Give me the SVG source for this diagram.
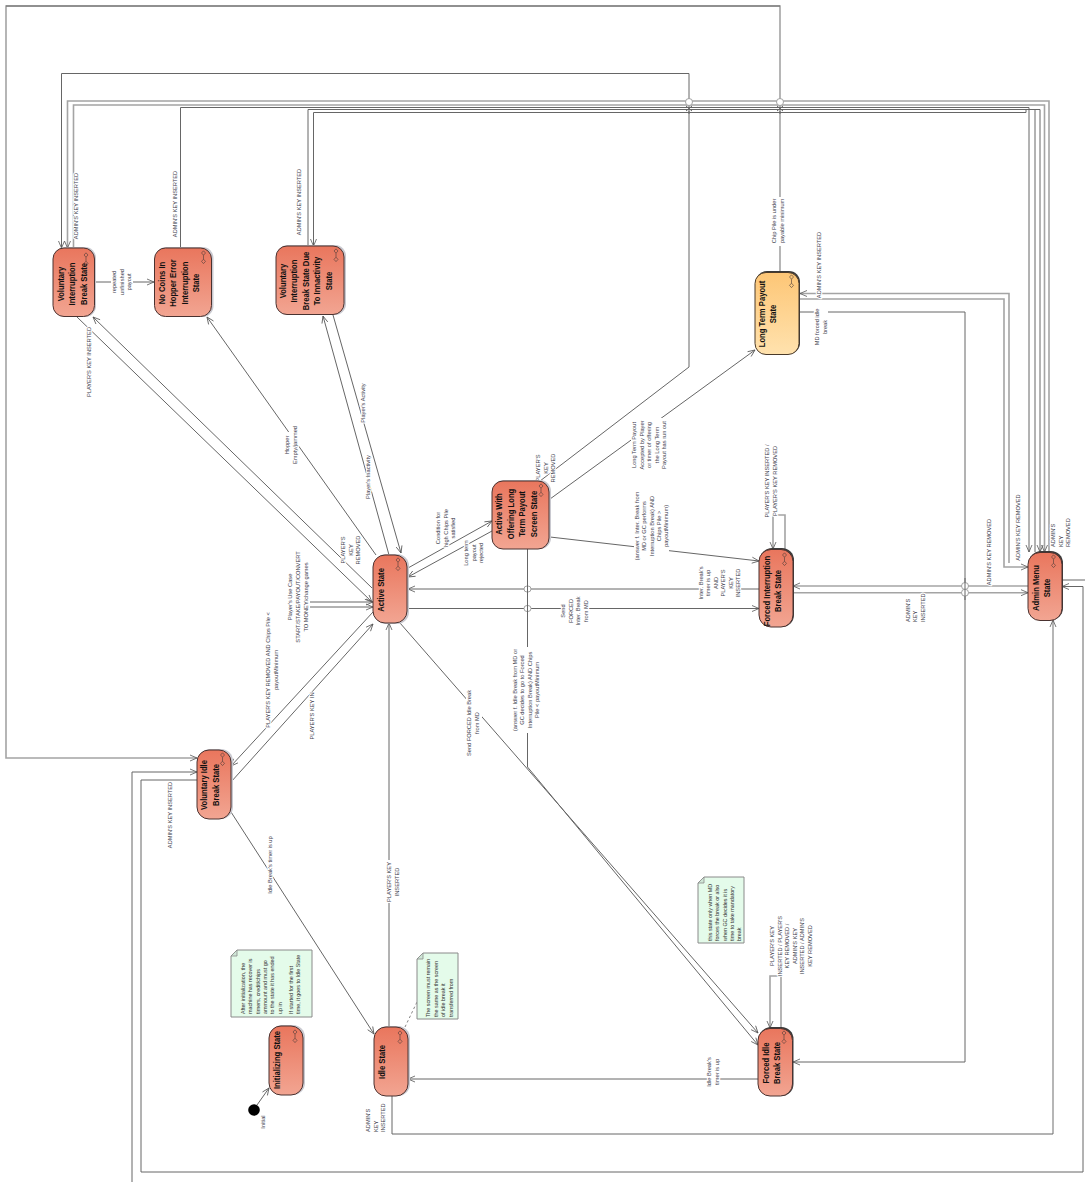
<svg xmlns="http://www.w3.org/2000/svg" xmlns:xlink="http://www.w3.org/1999/xlink" width="1085" height="1182" viewBox="0 0 1085 1182">
<style>
.bg{fill:#fff}
.c{fill:none;stroke:#666;stroke-width:1}
.g{fill:none;stroke:#a4a4a4;stroke-width:1.6}
.a{marker-end:url(#arrow)}
.hop{fill:#fff;stroke:#999;stroke-width:.9}
.w{fill:#fff}
.dash{fill:none;stroke:#666;stroke-width:.8;stroke-dasharray:2.5 2.5}
text{font-family:"Liberation Sans",Arial,sans-serif}
.l{font-size:5.7px;fill:#3c3c4c;text-anchor:middle;paint-order:stroke;stroke:#fff;stroke-width:2.2;stroke-linejoin:round}
.ls{font-size:5.7px;fill:#3c3c4c;text-anchor:start;paint-order:stroke;stroke:#fff;stroke-width:2.2;stroke-linejoin:round}
.n{font-size:5.4px;fill:#333;text-anchor:start}
.s{font-size:9px;font-weight:bold;fill:#111;text-anchor:middle}
.st{fill:url(#red);stroke:#4a3230;stroke-width:1}
.sty{fill:url(#yel);stroke:#4a3a2a;stroke-width:1}
.sh{fill:#c9c9d0}
.shd{fill:#3a3a3a}
.note{fill:#e4fbea;stroke:#8a8a8a;stroke-width:1}
.fold{fill:#cfe6d6;stroke:#8a8a8a;stroke-width:.8}
.ic{fill:none;stroke:#4a3a38;stroke-width:.6}
</style>
<defs>
<linearGradient id="red" x1="0" y1="0" x2="0" y2="1"><stop offset="0" stop-color="#e9765d"/><stop offset="1" stop-color="#f2a592"/></linearGradient>
<linearGradient id="yel" x1="0" y1="0" x2="0" y2="1"><stop offset="0" stop-color="#fdc676"/><stop offset="1" stop-color="#ffe2ae"/></linearGradient>
<marker id="arrow" viewBox="-8 -4 9 8" refX="0" refY="0" markerWidth="9" markerHeight="8" markerUnits="userSpaceOnUse" orient="auto"><path d="M-7,-3 L0,0 L-7,3" fill="none" stroke="#555" stroke-width=".8"/></marker>
<g id="icon"><path class="ic" d="M0,-2.2 L2,0 L0,2.2 L-2,0 Z"/><path class="ic" d="M0,6.2 L2,8.4 L0,10.6 L-2,8.4 Z"/><path class="ic" d="M0,2.2 V6.2"/></g>
</defs>
<rect class="bg" width="1085" height="1182"/>

<g id="connectors">
<path class="g a" d="M780,272 V6 H6 V758 H197"/>
<path class="c" d="M6,6 H780"/>
<path class="c a" d="M540,481 L689,367 V73.5 H61.5 V248"/>
<path class="g a" d="M1049,552 V101 H67.5 V248"/>
<path class="g a" d="M73.5,248 V105 H1044.5 V552"/>
<path class="c a" d="M180.5,248 V107.5 H1029 V552"/>
<path class="c a" d="M308,246 V109.5 H1040 V552"/>
<path class="c a" d="M1035,552 V109.5 H1026 V112.5 H313.5 V246"/>
<path class="c a" d="M95,282 H154"/>
<path class="c a" d="M77,317 L372,602"/>
<path class="c a" d="M372,588 L93,317"/>
<path class="c a" d="M376,555 L207,317"/>
<path class="c a" d="M389,555 L323,316"/>
<path class="c a" d="M333,315 L401,553"/>
<path class="c a" d="M408,568 L492,521"/>
<path class="c a" d="M492,531 L408,577"/>
<path class="c a" d="M550,499 L755,350"/>
<path class="c a" d="M550,537 L759,561"/>
<path class="c a" d="M759,589 H408"/>
<path class="c a" d="M407,608.5 H759"/>
<path class="c a" d="M310,602 H373"/>
<path class="c a" d="M310,607 H373"/>
<path class="c a" d="M373,612 L231,766"/>
<path class="c a" d="M231,782 L373,624"/>
<path class="c a" d="M527.5,549 V767 L758,1045"/>
<path class="c a" d="M400,623 L758,1033"/>
<path class="c a" d="M758,1079 H408"/>
<path class="c a" d="M389,1027 V623"/>
<path class="c a" d="M231,812 L374,1034"/>
<path class="g a" d="M785,549 V515 H773 V549"/>
<path class="g a" d="M781,1028 V976 H770 V1028"/>
<path class="c a" d="M800,312 H965 V1062 H793"/>
<path class="g a" d="M800,299 H1004 V567 H1028"/>
<path class="g a" d="M1009,563 V293.5 H800"/>
<path class="g a" d="M1028,586 H793"/>
<path class="g a" d="M793,592.7 H1028"/>
<path class="g a" d="M1053,1134 V620"/>
<path class="c" d="M392,1096 V1134 H1053"/>
<path class="c a" d="M197,780 H141 V1172 H1083 V586.5 H1062"/>
<path class="c a" d="M132,1182 V772 H197"/>
<path class="c" d="M1062,580 H1085"/>
<path class="c a" d="M257,1105 L269,1088"/>
<path class="dash" d="M405,1027 L417,1002"/>

<rect class="hop" x="524" y="586" width="7" height="6" rx="3"/>
<rect class="hop" x="524" y="605.5" width="7" height="6" rx="3"/>
<path class="c" d="M527.5,580 V616"/>
<rect class="hop" x="961.5" y="582.5" width="7" height="7" rx="3.5"/>
<rect class="hop" x="961.5" y="589.2" width="7" height="7" rx="3.5"/>
<path class="c" d="M965,578 V600"/>
<circle class="hop" cx="689" cy="102" r="3.5"/>
<path class="c" d="M686,106 L692,111 M692,106 L686,111 M689,111 V114"/>
<circle class="hop" cx="780" cy="102" r="3.5"/>
<path class="c" d="M777,106 L783,111 M783,106 L777,111 M780,111 V114"/>
</g>

<g id="labels">
<text class="l" transform="translate(78,206) rotate(-90)">ADMIN'S KEY INSERTED</text>
<text class="l" transform="translate(177,204) rotate(-90)">ADMIN'S KEY INSERTED</text>
<text class="l" transform="translate(300.5,202) rotate(-90)">ADMIN'S KEY INSERTED</text>
<text class="l" transform="translate(91,362) rotate(-90)">PLAYER'S KEY INSERTED</text>
<rect class="w" x="111" y="272" width="22" height="20"/>
<text class="l" transform="translate(116,282) rotate(-90)"><tspan x="0" y="0">repeated</tspan><tspan x="0" y="7.6">unfinished</tspan><tspan x="0" y="15.2">payout</tspan></text>
<rect class="w" x="284" y="432" width="16" height="14"/>
<text class="l" transform="translate(289,445) rotate(-90)"><tspan x="0" y="0">Hopper</tspan><tspan x="0" y="7.6">Empty/jammed</tspan></text>
<text class="l" transform="translate(365,403) rotate(-90)">Player's Activity</text>
<text class="l" transform="translate(370,477) rotate(-90)">Player's Inactivity</text>
<text class="l" transform="translate(345,550) rotate(-90)"><tspan x="0" y="0">PLAYER'S</tspan><tspan x="0" y="7.6">KEY</tspan><tspan x="0" y="15.2">REMOVED</tspan></text>
<text class="l" transform="translate(440,528) rotate(-90)"><tspan x="0" y="0">Condition for</tspan><tspan x="0" y="7.6">high Chips Pile</tspan><tspan x="0" y="15.2">satisfied</tspan></text>
<text class="l" transform="translate(468,553) rotate(-90)"><tspan x="0" y="0">Long term</tspan><tspan x="0" y="7.6">payout</tspan><tspan x="0" y="15.2">rejected</tspan></text>
<text class="l" transform="translate(540,468) rotate(-90)"><tspan x="0" y="0">PLAYER'S</tspan><tspan x="0" y="7.6">KEY</tspan><tspan x="0" y="15.2">REMOVED</tspan></text>
<rect class="w" x="631" y="418" width="36" height="54"/>
<text class="l" transform="translate(636,445) rotate(-90)"><tspan x="0" y="0">Long Term Payout</tspan><tspan x="0" y="7.5">Accepted by Player</tspan><tspan x="0" y="15">or timer of offering</tspan><tspan x="0" y="22.5">the Long Term</tspan><tspan x="0" y="30">Payout  has run out</tspan></text>
<rect class="w" x="634" y="490" width="35" height="72"/>
<text class="l" transform="translate(639,526) rotate(-90)"><tspan x="0" y="0">(answer f. Inter. Break from</tspan><tspan x="0" y="7.3">MD or GC performs</tspan><tspan x="0" y="14.6">Interruption Break) AND</tspan><tspan x="0" y="21.9">Chips Pile &gt;</tspan><tspan x="0" y="29.2">payoutMinimum)</tspan></text>
<rect class="w" x="699" y="565" width="42" height="37"/>
<text class="l" transform="translate(703,583) rotate(-90)"><tspan x="0" y="0">Inter. Break's</tspan><tspan x="0" y="7.4">timer is up</tspan><tspan x="0" y="14.8">AND</tspan><tspan x="0" y="22.2">PLAYER'S</tspan><tspan x="0" y="29.6">KEY</tspan><tspan x="0" y="37">INSERTED</tspan></text>
<rect class="w" x="561" y="600" width="28" height="23"/>
<text class="l" transform="translate(565,611) rotate(-90)"><tspan x="0" y="0">Send</tspan><tspan x="0" y="7.6">FORCED</tspan><tspan x="0" y="15.2">Inter. Break</tspan><tspan x="0" y="22.8">from MD</tspan></text>
<text class="l" transform="translate(769,481) rotate(-90)"><tspan x="0" y="0">PLAYER'S KEY INSERTED /</tspan><tspan x="0" y="7.6">PLAYER'S KEY REMOVED</tspan></text>
<rect class="w" x="771" y="197" width="14" height="49"/>
<text class="l" transform="translate(776,221) rotate(-90)"><tspan x="0" y="0">Chip Pile is under</tspan><tspan x="0" y="7.8">payable minimum</tspan></text>
<text class="l" transform="translate(821,265) rotate(-90)">ADMIN'S KEY INSERTED</text>
<rect class="w" x="814" y="307" width="14" height="39"/>
<text class="l" transform="translate(819,327) rotate(-90)"><tspan x="0" y="0">MD forced idle</tspan><tspan x="0" y="7.8">break</tspan></text>
<text class="l" transform="translate(1020,527.5) rotate(-90)">ADMIN'S KEY REMOVED</text>
<text class="l" transform="translate(991,552) rotate(-90)">ADMIN'S KEY REMOVED</text>
<text class="ls" transform="translate(1055,547) rotate(-90)"><tspan x="0" y="0">ADMIN'S</tspan><tspan x="0" y="7.6">KEY</tspan><tspan x="0" y="15.2">REMOVED</tspan></text>
<text class="ls" transform="translate(910,622) rotate(-90)"><tspan x="0" y="0">ADMIN'S</tspan><tspan x="0" y="7.4">KEY</tspan><tspan x="0" y="14.8">INSERTED</tspan></text>
<text class="l" transform="translate(292,597) rotate(-90)"><tspan x="0" y="0">Player's Use Case</tspan><tspan x="0" y="7.8">START/STAKE/PAYOUT/CONVERT</tspan><tspan x="0" y="15.6">TO MONEY/change games</tspan></text>
<text class="l" transform="translate(270,670) rotate(-90)"><tspan x="0" y="0">PLAYER'S KEY REMOVED AND Chips Pile &lt;</tspan><tspan x="0" y="8">payoutMinimum</tspan></text>
<text class="l" transform="translate(314,716) rotate(-90)">PLAYER'S KEY IN</text>
<rect class="w" x="513" y="647" width="27" height="86"/>
<text class="l" transform="translate(517,690) rotate(-90)"><tspan x="0" y="0">(answer f. Idle Break from MD or</tspan><tspan x="0" y="7.4">GC decides to go to Forced</tspan><tspan x="0" y="14.8">Interruption Break) AND Chips</tspan><tspan x="0" y="22.2">Pile &lt; payoutMinimum</tspan></text>
<rect class="w" x="466" y="690" width="16" height="67"/>
<text class="l" transform="translate(471,723) rotate(-90)"><tspan x="0" y="0">Send FORCED Idle Break</tspan><tspan x="0" y="8">from MD</tspan></text>
<text class="l" transform="translate(172,815) rotate(-90)">ADMIN'S KEY INSERTED</text>
<text class="l" transform="translate(272,865) rotate(-90)">Idle Break's timer is up</text>
<rect class="w" x="386" y="860" width="15" height="43"/>
<text class="l" transform="translate(391,882) rotate(-90)"><tspan x="0" y="0">PLAYER'S KEY</tspan><tspan x="0" y="8">INSERTED</tspan></text>
<text class="ls" transform="translate(370,1132) rotate(-90)"><tspan x="0" y="0">ADMIN'S</tspan><tspan x="0" y="7.5">KEY</tspan><tspan x="0" y="15">INSERTED</tspan></text>
<text class="l" transform="translate(265,1122) rotate(-90)">Initial</text>
<rect class="w" x="707" y="1057" width="13" height="30"/>
<text class="l" transform="translate(711,1072) rotate(-90)"><tspan x="0" y="0">Idle Break's</tspan><tspan x="0" y="8">timer is up</tspan></text>
<text class="l" transform="translate(774,946) rotate(-90)"><tspan x="0" y="0">PLAYER'S KEY</tspan><tspan x="0" y="7.6">INSERTED / PLAYER'S</tspan><tspan x="0" y="15.2">KEY REMOVED /</tspan><tspan x="0" y="22.8">ADMIN'S KEY</tspan><tspan x="0" y="30.4">INSERTED / ADMIN'S</tspan><tspan x="0" y="38">KEY REMOVED</tspan></text>
</g>

<g id="note-init">
<path class="note" d="M237,950 H312 V1017 H231 V956 Z"/><path class="fold" d="M231,956 L237,956 L237,950 Z"/>
<text class="n" transform="translate(245,1014) rotate(-90)"><tspan x="0" y="0">After initialization, the</tspan><tspan x="0" y="7.3">machine has recover is</tspan><tspan x="0" y="14.6">timers, credit/chips</tspan><tspan x="0" y="21.9">ammount and must go</tspan><tspan x="0" y="29.2">to the state it has ended</tspan><tspan x="0" y="36.5">up in</tspan><tspan x="0" y="47.5">If started for the first</tspan><tspan x="0" y="54.8">time, it goes to Idle State</tspan></text>
</g>
<g id="note-idle">
<path class="note" d="M423,953 H458 V1019 H417 V959 Z"/><path class="fold" d="M417,959 L423,959 L423,953 Z"/>
<text class="n" transform="translate(430,1017) rotate(-90)"><tspan x="0" y="0">The screen must remain</tspan><tspan x="0" y="7.5">the same as the screen</tspan><tspan x="0" y="15">of idle break it</tspan><tspan x="0" y="22.5">transferred from</tspan></text>
</g>
<g id="note-forced">
<path class="note" d="M704,877 H744 V943 H698 V883 Z"/><path class="fold" d="M698,883 L704,883 L704,877 Z"/>
<text class="n" transform="translate(712,941) rotate(-90)"><tspan x="0" y="0">this state only when MD</tspan><tspan x="0" y="7.3">forces the break or also</tspan><tspan x="0" y="14.6">when GC decides it is</tspan><tspan x="0" y="21.9">time to take mandatory</tspan><tspan x="0" y="29.2">break</tspan></text>
</g>

<g id="voluntary-interruption">
<rect class="sh" x="54.5" y="247" width="41.5" height="70" rx="11"/><rect class="st" x="53" y="248" width="41.5" height="68.5" rx="11"/>
<use xlink:href="#icon" href="#icon" x="86" y="255"/>
<text class="s" transform="translate(64,284) rotate(-90) scale(.85,1)"><tspan x="0" y="0">Voluntary</tspan><tspan x="0" y="11.3">Interruption</tspan><tspan x="0" y="22.6">Break State</tspan></text>
</g>
<g id="no-coins">
<rect class="sh" x="155.5" y="247" width="58" height="70" rx="11"/><rect class="st" x="154.5" y="248" width="57" height="68.5" rx="11"/>
<use xlink:href="#icon" href="#icon" x="203.5" y="253"/>
<text class="s" transform="translate(165,283) rotate(-90) scale(.85,1)"><tspan x="0" y="0">No Coins In</tspan><tspan x="0" y="11.5">Hopper Error</tspan><tspan x="0" y="23">Interruption</tspan><tspan x="0" y="34.5">State</tspan></text>
</g>
<g id="voluntary-inactivity">
<rect class="sh" x="277" y="245" width="69" height="70" rx="11"/><rect class="st" x="276" y="246" width="68" height="68.5" rx="11"/>
<use xlink:href="#icon" href="#icon" x="336" y="251"/>
<text class="s" transform="translate(286,281) rotate(-90) scale(.85,1)"><tspan x="0" y="0">Voluntary</tspan><tspan x="0" y="11.5">Interruption</tspan><tspan x="0" y="23">Break State Due</tspan><tspan x="0" y="34.5">To Innactivity</tspan><tspan x="0" y="46">State</tspan></text>
</g>
<g id="long-term-payout">
<rect class="shd" x="756" y="271" width="44" height="83" rx="11"/><rect class="sty" x="755" y="272.5" width="44" height="82" rx="11"/>
<use xlink:href="#icon" href="#icon" x="791.5" y="277"/>
<text class="s" transform="translate(765,314) rotate(-90) scale(.85,1)"><tspan x="0" y="0">Long Term Payout</tspan><tspan x="0" y="11.5">State</tspan></text>
</g>
<g id="active-offering">
<rect class="sh" x="493" y="480" width="58" height="69" rx="11"/><rect class="st" x="492" y="481" width="57" height="68" rx="11"/>
<use xlink:href="#icon" href="#icon" x="541" y="486"/>
<text class="s" transform="translate(502,514) rotate(-90) scale(.85,1)"><tspan x="0" y="0">Active With</tspan><tspan x="0" y="11.6">Offering Long</tspan><tspan x="0" y="23.2">Term Payout</tspan><tspan x="0" y="34.8">Screen State</tspan></text>
</g>
<g id="active">
<rect class="sh" x="374" y="554" width="35" height="70" rx="12"/><rect class="st" x="373" y="555" width="34" height="68" rx="12"/>
<use xlink:href="#icon" href="#icon" x="398" y="560"/>
<text class="s" transform="translate(384,590) rotate(-90) scale(.85,1)">Active State</text>
</g>
<g id="forced-interruption">
<rect class="shd" x="760" y="548" width="34" height="79" rx="12"/><rect class="st" x="759" y="549.5" width="34" height="77.5" rx="12"/>
<use xlink:href="#icon" href="#icon" x="784.5" y="555"/>
<text class="s" transform="translate(770,591) rotate(-90) scale(.85,1)"><tspan x="0" y="0">Forced Interruption</tspan><tspan x="0" y="11.5">Break State</tspan></text>
</g>
<g id="admin-menu">
<rect class="shd" x="1029" y="551" width="34" height="69" rx="12"/><rect class="st" x="1028" y="552.5" width="34" height="68" rx="12"/>
<use xlink:href="#icon" href="#icon" x="1053.5" y="557"/>
<text class="s" transform="translate(1039,588) rotate(-90) scale(.85,1)"><tspan x="0" y="0">Admin Menu</tspan><tspan x="0" y="11.3">State</tspan></text>
</g>
<g id="voluntary-idle">
<rect class="sh" x="198" y="749" width="35" height="70" rx="12"/><rect class="st" x="197" y="750" width="34" height="69" rx="12"/>
<use xlink:href="#icon" href="#icon" x="222.5" y="755"/>
<text class="s" transform="translate(207,785) rotate(-90) scale(.85,1)"><tspan x="0" y="0">Voluntary Idle</tspan><tspan x="0" y="11.7">Break State</tspan></text>
</g>
<g id="initializing">
<rect class="sh" x="270" y="1025" width="35" height="70" rx="12"/><rect class="st" x="269" y="1026" width="34" height="69" rx="12"/>
<use xlink:href="#icon" href="#icon" x="295" y="1032"/>
<text class="s" transform="translate(280,1060) rotate(-90) scale(.85,1)">Initializing State</text>
</g>
<circle id="initial" cx="254" cy="1110" r="5.8" fill="#000"/>
<g id="idle">
<rect class="sh" x="375" y="1026" width="35" height="70" rx="12"/><rect class="st" x="374" y="1027" width="34" height="69" rx="12"/>
<use xlink:href="#icon" href="#icon" x="400" y="1033"/>
<text class="s" transform="translate(385,1062) rotate(-90) scale(.85,1)">Idle State</text>
</g>
<g id="forced-idle">
<rect class="shd" x="759" y="1027" width="34.5" height="69" rx="12"/><rect class="st" x="758" y="1028.5" width="34.5" height="67.5" rx="12"/>
<use xlink:href="#icon" href="#icon" x="784" y="1033"/>
<text class="s" transform="translate(769,1063) rotate(-90) scale(.85,1)"><tspan x="0" y="0">Forced Idle</tspan><tspan x="0" y="11.5">Break State</tspan></text>
</g>
</svg>
